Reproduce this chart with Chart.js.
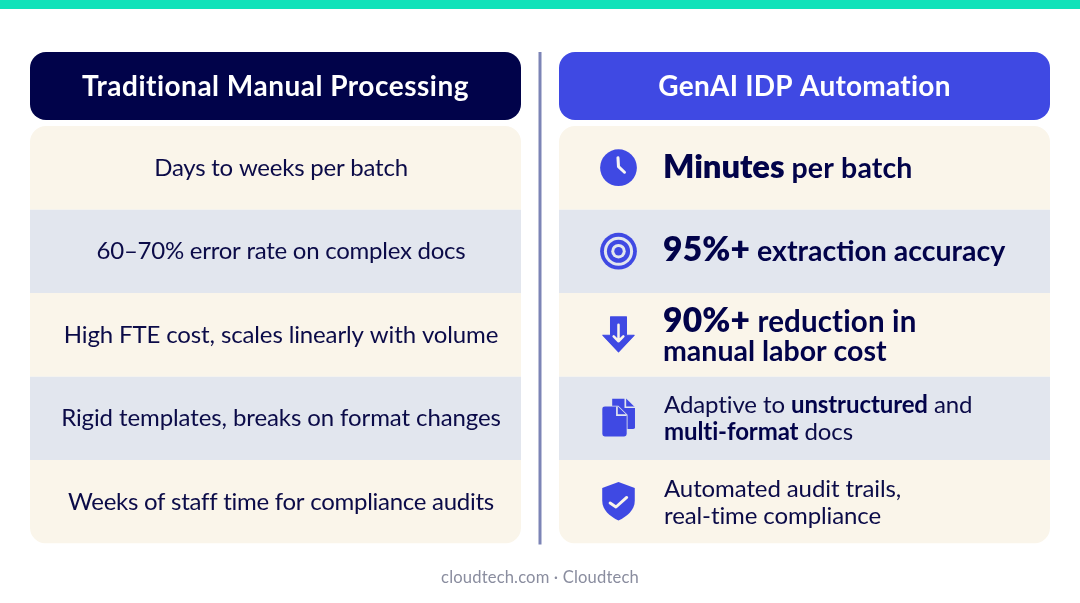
<!DOCTYPE html>
<html>
<head>
<meta charset="utf-8">
<script src="https://cdn.jsdelivr.net/npm/chart.js@4"></script>
<style>
html,body{margin:0;padding:0;background:#fff;overflow:hidden}
#wrap{position:relative;width:1080px;height:603px}
canvas{display:block}
</style>
</head>
<body>
<div id="wrap"><canvas id="c" width="1080" height="603"></canvas></div>
<script>
const categories = ["Traditional Manual Processing", "GenAI IDP Automation"];
const footer = "cloudtech.com · Cloudtech";
const leftRows = [
  "Days to weeks per batch",
  "60–70% error rate on complex docs",
  "High FTE cost, scales linearly with volume",
  "Rigid templates, breaks on format changes",
  "Weeks of staff time for compliance audits"
];
// text runs: [text, style key]
const rightRows = [
  [[["Minutes","bigM"],[" per batch","mid3"]]],
  [[["95%+","big"],[" extraction accuracy","mid"]]],
  [[["90%+","big"],[" reduction in","mid2"]],[["manual labor cost","mid"]]],
  [[["Adaptive to ","reg"],["unstructured","bold"],[" and","reg"]],[["multi-format","bold"],[" docs","reg"]]],
  [[["Automated audit trails,","reg"]],[["real-time compliance","reg"]]]
];
const rowIcons = ["clock","target","arrow","docs","shield"];
const headerSpan = [0, 0.814];
const firstRowStart = 0.886;
const rowCount = leftRows.length;
const rowColors = ["#FAF5EA","#E2E6EE","#FAF5EA","#E2E6EE","#FAF5EA"];
const headerColors = ["#01034A","#3F49E3"];

const NAVY="#0B0B48", BLUE="#3F49E3";
const FAMILY='Lato, sans-serif';
const styles = {
  big:  {font:`800 33.5px ${FAMILY}`, ls:0.2, color:"#02034A"},
  bigM: {font:`800 32.8px ${FAMILY}`, ls:-0.1, color:"#02034A"},
  mid:  {font:`700 28.5px ${FAMILY}`, ls:0, color:"#02034A"},
  mid2: {font:`700 29.5px ${FAMILY}`, ls:0.15, color:"#02034A"},
  mid3: {font:`700 28.5px ${FAMILY}`, ls:0.15, color:"#02034A"},
  reg:  {font:`400 24px ${FAMILY}`, ls:-0.1, color:NAVY},
  bold: {font:`700 24px ${FAMILY}`, ls:-0.1, color:"#02034A"}
};
const rightBaselines = [[10],[10],[-3,26],[-5.5,21.5],[-5,22]];
const leftSpacing = [-0.23,-0.25,-0.13,-0.1,-0.27];
const headerSpacing = [0.5,0.25];

function setStyle(ctx,s){ctx.font=s.font;ctx.letterSpacing=s.ls+"px";ctx.fillStyle=s.color;}

const icons = {
  clock(ctx,x,y){
    ctx.fillStyle=BLUE;ctx.beginPath();ctx.arc(x,y,17.5,0,Math.PI*2);ctx.fill();
    ctx.strokeStyle="#F6F4F4";ctx.lineWidth=2.9;ctx.lineCap="round";ctx.lineJoin="round";
    ctx.beginPath();ctx.moveTo(x-0.5,y-9.5);ctx.lineTo(x,y-1);ctx.lineTo(x+5.7,y+4.3);ctx.stroke();
  },
  target(ctx,x,y){
    const rings=[[17.5,BLUE],[13.9,"#E2E6EE"],[11,BLUE],[6.9,"#E2E6EE"],[4,BLUE]];
    for(const [r,c] of rings){ctx.fillStyle=c;ctx.beginPath();ctx.arc(x,y,r,0,Math.PI*2);ctx.fill();}
  },
  arrow(ctx,x,y){
    ctx.fillStyle=BLUE;ctx.strokeStyle=BLUE;ctx.lineWidth=1;ctx.lineJoin="round";ctx.beginPath();
    ctx.moveTo(x-7.6,y-17);ctx.lineTo(x+7.6,y-17);ctx.lineTo(x+7.6,y+0.4);ctx.lineTo(x+15,y+0.4);
    ctx.lineTo(x,y+16.4);ctx.lineTo(x-15,y+0.4);ctx.lineTo(x-7.6,y+0.4);ctx.closePath();ctx.fill();ctx.stroke();
    ctx.strokeStyle="#FAF5EA";ctx.lineWidth=2.4;ctx.lineCap="round";ctx.lineJoin="round";
    ctx.beginPath();ctx.moveTo(x,y-9.5);ctx.lineTo(x,y+6.2);ctx.moveTo(x-4.6,y+1.6);ctx.lineTo(x,y+6.2);ctx.lineTo(x+4.6,y+1.6);ctx.stroke();
  },
  docs(ctx,x,y){
    ctx.fillStyle=BLUE;
    ctx.beginPath();ctx.moveTo(x-6,y-18.6);ctx.lineTo(x+7.5,y-18.6);ctx.lineTo(x+15.7,y-10.5);ctx.lineTo(x+15.7,y+8.5);
    ctx.quadraticCurveTo(x+15.7,y+10.3,x+13.5,y+10.3);ctx.lineTo(x-6,y+10.3);ctx.closePath();ctx.fill();
    ctx.strokeStyle="#E2E6EE";ctx.lineWidth=1.6;
    ctx.beginPath();ctx.moveTo(x+6.5,y-19.5);ctx.lineTo(x+6.5,y-10.5);ctx.lineTo(x+16.5,y-10.5);ctx.stroke();
    ctx.fillStyle=BLUE;ctx.strokeStyle="#E2E6EE";ctx.lineWidth=1.6;ctx.beginPath();
    ctx.moveTo(x-13,y-11.2);ctx.lineTo(x-0.5,y-11.2);ctx.lineTo(x+7.8,y-3);ctx.lineTo(x+7.8,y+15);
    ctx.quadraticCurveTo(x+7.8,y+17.3,x+5.5,y+17.3);ctx.lineTo(x-13,y+17.3);
    ctx.quadraticCurveTo(x-15.4,y+17.3,x-15.4,y+15);ctx.lineTo(x-15.4,y-9);
    ctx.quadraticCurveTo(x-15.4,y-11.2,x-13,y-11.2);ctx.closePath();ctx.stroke();ctx.fill();
    ctx.beginPath();ctx.moveTo(x-1.5,y-11.2);ctx.lineTo(x-1.5,y-3);ctx.lineTo(x+7.8,y-3);ctx.stroke();
  },
  shield(ctx,x,y){
    ctx.fillStyle=BLUE;ctx.beginPath();
    ctx.moveTo(x,y-18.8);ctx.lineTo(x+15.5,y-13);ctx.lineTo(x+15.5,y-1);
    ctx.bezierCurveTo(x+15.5,y+8,x+8,y+14,x,y+17.8);
    ctx.bezierCurveTo(x-8,y+14,x-15.5,y+8,x-15.5,y-1);ctx.lineTo(x-15.5,y-13);ctx.closePath();ctx.fill();
    ctx.strokeStyle="#FAF5EA";ctx.lineWidth=2.8;ctx.lineCap="round";ctx.lineJoin="round";
    ctx.beginPath();ctx.moveTo(x-8,y+1.2);ctx.lineTo(x-2.4,y+5);ctx.lineTo(x+7.8,y-4.1);ctx.stroke();
  }
};

const infographic = {
  id:"infographic",
  beforeDraw(chart){
    const {ctx,scales:{x,y}} = chart;
    ctx.save();
    ctx.fillStyle="#10E2B9";ctx.fillRect(0,0,chart.width,9);
    const mid=(x.getPixelForValue(0)+x.getPixelForValue(1))/2;
    ctx.fillStyle="#7C84B6";ctx.fillRect(mid-1.5,y.top,3,y.bottom-y.top+1);
    ctx.restore();
  },
  afterDatasetsDraw(chart){
    const {ctx,scales:{x,y}} = chart;
    ctx.save();
    ctx.textBaseline="alphabetic";
    const barMeta = chart.getDatasetMeta(0).data;
    const cx0=x.getPixelForValue(0), cx1=x.getPixelForValue(1);
    const barLeft1 = barMeta[1].x-barMeta[1].width/2;
    // headers
    ctx.textAlign="center";ctx.fillStyle="#FFFFFF";
    ctx.font=`700 28px ${FAMILY}`;
    const hb=(y.getPixelForValue(headerSpan[0])+y.getPixelForValue(headerSpan[1]))/2+10;
    ctx.letterSpacing=headerSpacing[0]+"px";
    ctx.fillText(categories[0],cx0,hb);
    ctx.letterSpacing=headerSpacing[1]+"px";
    ctx.fillText(categories[1],cx1,hb);
    // left rows
    ctx.font=`400 24px ${FAMILY}`;ctx.fillStyle=NAVY;
    leftRows.forEach((t,i)=>{
      const cy=y.getPixelForValue(firstRowStart+i+0.5);
      ctx.letterSpacing=leftSpacing[i]+"px";
      ctx.fillText(t,cx0+5.5,cy+8);
    });
    // right rows
    ctx.textAlign="left";
    rightRows.forEach((lines,i)=>{
      const cy=y.getPixelForValue(firstRowStart+i+0.5);
      ctx.save();ctx.translate(barLeft1+59.5,cy);ctx.scale(1.05,1.05);
      icons[rowIcons[i]](ctx,0,0);
      ctx.restore();
      lines.forEach((runs,l)=>{
        let px=barLeft1+104+(i>2?1:0);
        runs.forEach(([t,k])=>{
          setStyle(ctx,styles[k]);
          ctx.fillText(t,px,cy+rightBaselines[i][l]);
          px+=ctx.measureText(t).width;
        });
      });
    });
    // footer
    ctx.textAlign="center";ctx.font=`400 16.6px ${FAMILY}`;ctx.letterSpacing="0.15px";ctx.fillStyle="#8A8D9F";
    ctx.fillText(footer,chart.width/2,583);
    ctx.restore();
  }
};

const radius=16;
const datasets=[{
  label:"Header",
  data:categories.map(()=>headerSpan),
  backgroundColor:headerColors,
  borderRadius:radius
}];
for(let i=0;i<rowCount;i++){
  const span=[firstRowStart+i,firstRowStart+i+1];
  datasets.push({
    label:`Row ${i+1}`,
    data:categories.map(()=>span),
    backgroundColor:rowColors[i],
    borderRadius: i===0?{topLeft:radius,topRight:radius,bottomLeft:0,bottomRight:0}
      : i===rowCount-1?{topLeft:0,topRight:0,bottomLeft:radius,bottomRight:radius}:0
  });
}

new Chart(document.getElementById("c"),{
  type:"bar",
  data:{labels:categories,datasets},
  options:{
    responsive:false,animation:false,
    layout:{padding:{left:11,right:11,top:52,bottom:59.5}},
    plugins:{legend:{display:false},tooltip:{enabled:false},title:{display:false}},
    datasets:{bar:{grouped:false,barPercentage:491/529,categoryPercentage:1,borderSkipped:false,borderWidth:0,inflateAmount:0}},
    scales:{
      x:{display:false,grid:{display:false}},
      y:{display:false,reverse:true,min:0,max:firstRowStart+rowCount,grid:{display:false}}
    }
  },
  plugins:[infographic]
});
</script>
</body>
</html>
